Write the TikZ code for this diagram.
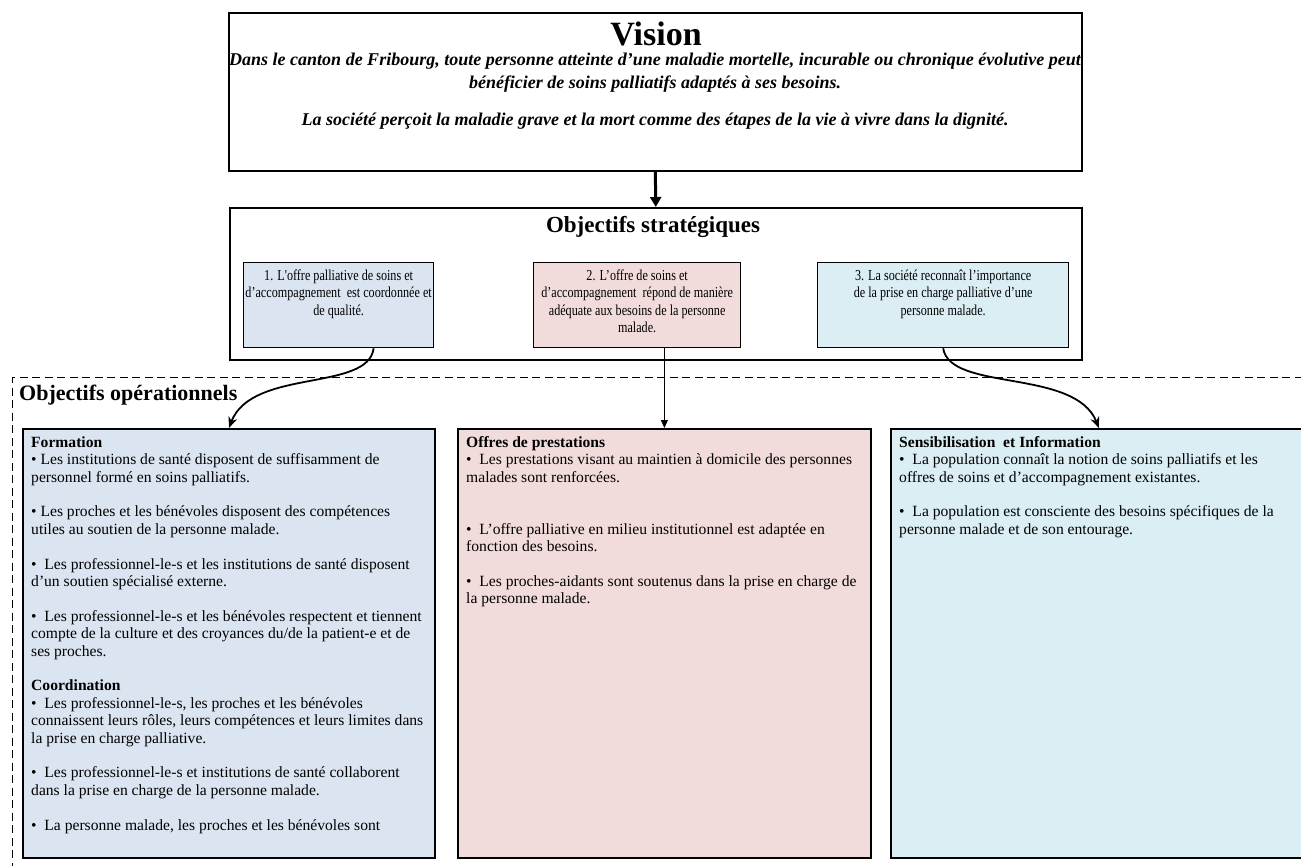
\documentclass[tikz,border=0pt]{standalone}
\usepackage{fontspec}
\setmainfont{Liberation Serif}
\newfontfamily\condserif[FakeStretch=0.8]{Liberation Serif}
\usetikzlibrary{arrows.meta}
\definecolor{boxblue}{RGB}{219,229,241}
\definecolor{boxpink}{RGB}{242,220,219}
\definecolor{boxcyan}{RGB}{218,238,243}
\newcommand\pgap{\\[17.4pt]}
\tikzset{
  framebox/.style={draw=black, line width=1.6pt, anchor=north west, inner sep=0pt},
  stratbox/.style={draw=black, line width=1.3pt, anchor=north west, inner sep=0pt, minimum height=85pt},
  opbox/.style={draw=black, line width=1.8pt, anchor=north west, inner sep=0pt, minimum height=429pt},
  optext/.style={anchor=north west, inner sep=0pt, align=left, font=\fontsize{15.6}{17.4}\selectfont},
  stext/.style={anchor=north, inner sep=0pt, align=center, font=\condserif\fontsize{15.2}{17.5}\selectfont},
  curvearrow/.style={line width=1.8pt, -{Stealth[length=11pt,width=9pt]}},
}
\begin{document}
\begin{tikzpicture}[x=1pt,y=-1pt]
\clip (0,0) rectangle (1301,866);
\fill[white] (0,0) rectangle (1301,866);

% Vision
\node[framebox, minimum width=853pt, minimum height=158pt] (vision) at (228,12) {};
\node[anchor=base, inner sep=0pt, font=\bfseries\fontsize{34}{36}\selectfont] (vtitle) at (656,46) {Vision};
\node[anchor=north, inner sep=0pt, align=center, font=\bfseries\itshape\fontsize{18}{23}\selectfont] (vtext) at (655,49)
  {\strut Dans le canton de Fribourg, toute personne atteinte d’une maladie mortelle, incurable ou chronique évolutive peut\\
   bénéficier de soins palliatifs adaptés à ses besoins.\\[14pt]
   La société perçoit la maladie grave et la mort comme des étapes de la vie à vivre dans la dignité.};

% Strategic objectives
\node[framebox, minimum width=852pt, minimum height=152pt] (strat) at (229,207) {};
\node[anchor=base, inner sep=0pt, font=\bfseries\fontsize{23}{26}\selectfont] (stitle) at (653,233) {Objectifs stratégiques};

\node[stratbox, fill=boxblue, minimum width=190pt] (s1) at (243,262) {};
\node[stratbox, fill=boxpink, minimum width=207pt] (s2) at (533,262) {};
\node[stratbox, fill=boxcyan, minimum width=251pt] (s3) at (817,262) {};
\node[stext] (s1t) at (s1.north) [yshift=-6pt] {\strut 1. L'offre palliative de soins et\\d’accompagnement\ \ est coordonnée et\\de qualité.};
\node[stext] (s2t) at (s2.north) [yshift=-6pt] {\strut 2. L’offre de soins et\\d’accompagnement\ \ répond de manière\\adéquate aux besoins de la personne\\malade.};
\node[stext] (s3t) at (s3.north) [yshift=-6pt] {\strut 3. La société reconnaît l’importance\\de la prise en charge palliative d’une\\personne malade.};

% Operational frame
\node[draw=black, dash pattern=on 8pt off 4.5pt, line width=1.3pt, anchor=north west, inner sep=0pt,
      minimum width=1320pt, minimum height=600pt] (opframe) at (12,377) {};
\node[anchor=base west, inner sep=0pt, font=\bfseries\fontsize{22}{24}\selectfont] (optitle) at (19,401) {Objectifs opérationnels};

\node[opbox, fill=boxblue, minimum width=412pt] (o1) at (22,428) {};
\node[opbox, fill=boxpink, minimum width=413pt] (o2) at (457,428) {};
\node[opbox, fill=boxcyan, minimum width=416pt] (o3) at (890,428) {};

\node[optext] (o1t) at (31,435) {\strut\textbf{Formation}\\
• Les institutions de santé disposent de suffisamment de\\
personnel formé en soins palliatifs.\pgap
• Les proches et les bénévoles disposent des compétences\\
utiles au soutien de la personne malade.\pgap
•\ \ Les professionnel-le-s et les institutions de santé disposent\\
d’un soutien spécialisé externe.\pgap
•\ \ Les professionnel-le-s et les bénévoles respectent et tiennent\\
compte de la culture et des croyances du/de la patient-e et de\\
ses proches.\pgap
\textbf{Coordination}\\
•\ \ Les professionnel-le-s, les proches et les bénévoles\\
connaissent leurs rôles, leurs compétences et leurs limites dans\\
la prise en charge palliative.\pgap
•\ \ Les professionnel-le-s et institutions de santé collaborent\\
dans la prise en charge de la personne malade.\pgap
•\ \ La personne malade, les proches et les bénévoles sont};

\node[optext] (o2t) at (466,435) {\strut\textbf{Offres de prestations}\\
•\ \ Les prestations visant au maintien à domicile des personnes\\
malades sont renforcées.\\[34.8pt]
•\ \ L’offre palliative en milieu institutionnel est adaptée en\\
fonction des besoins.\pgap
•\ \ Les proches-aidants sont soutenus dans la prise en charge de\\
la personne malade.};

\node[optext] (o3t) at (899,435) {\strut\textbf{Sensibilisation\ \ et Information}\\
•\ \ La population connaît la notion de soins palliatifs et les\\
offres de soins et d’accompagnement existantes.\pgap
•\ \ La population est consciente des besoins spécifiques de la\\
personne malade et de son entourage.};

% Connectors
\draw[line width=3pt, -{Triangle[length=10pt,width=11pt]}] (vision.south) -- (strat.north);
\draw[curvearrow] ([xshift=35pt]s1.south) .. controls (368,392) and (252,368) .. (o1.north);
\draw[line width=1pt, -{Triangle[length=8pt,width=7pt]}] (o2.north |- s2.south) -- (o2.north);
\draw[curvearrow] (s3.south) .. controls (950,392) and (1075,368) .. (o3.north);
\end{tikzpicture}
\end{document}
